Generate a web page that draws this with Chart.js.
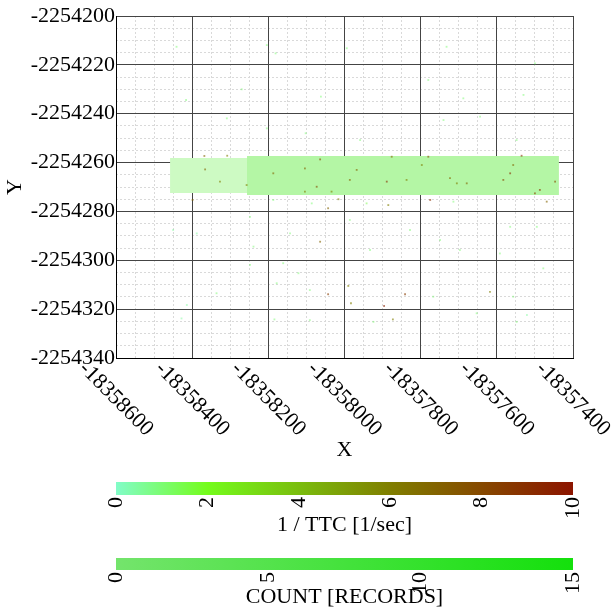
<!DOCTYPE html>
<html>
<head>
<meta charset="utf-8">
<script src="https://cdn.jsdelivr.net/npm/chart.js@4.4.1/dist/chart.umd.min.js"></script>
<style>
  html, body { margin: 0; padding: 0; background: #fff; }
  #wrap { position: relative; width: 614px; height: 614px; }
  canvas { position: absolute; left: 0; }
  #main { top: 0; }
  #cbTtc { top: 470px; }
  #cbCount { top: 546px; }
</style>
</head>
<body>
<div id="wrap">
  <canvas id="main" width="614" height="467"></canvas>
  <canvas id="cbTtc" width="614" height="72"></canvas>
  <canvas id="cbCount" width="614" height="68"></canvas>
</div>
<script>
// axis ranges and ticks
const xMin = -18358600, xMax = -18357400, xStep = 200;
const yMin = -2254340, yMax = -2254200, yStep = 20;

// dense band of records (edges)
const bandLeftX = [-18358458, -18358256];
const bandLeftTop = [-2254258.1, -2254258.1];
const bandLeftBottom = [-2254272.5, -2254272.5];
const bandRightX = [-18358256, -18357437];
const bandRightTop = [-2254257.3, -2254257.3];
const bandRightBottom = [-2254273.3, -2254273.3];

// individual records: x, y, 1/TTC
const pointX = [
  -18358441, -18358204, -18358181, -18357994, -18357732, -18357500, -18358270, -18358062, -18357780, -18357688,
  -18357530, -18358416, -18358204, -18358102, -18357644, -18357740, -18357959, -18357548, -18358309,
  -18358368, -18358308, -18358064, -18357876, -18357535, -18357780,
  -18358399, -18358187, -18358086, -18358043, -18358016, -18357942, -18357885, -18357775, -18357714, -18357469,
  -18358248, -18358064, -18358143, -18357986, -18357828, -18357749, -18357565, -18357495, -18358388, -18358450,
  -18358239, -18357933, -18357697, -18357592, -18358248, -18358161, -18358121, -18357990, -18358043, -18357983,
  -18357896, -18357841, -18357618, -18357478, -18357767, -18358414, -18358336, -18358178, -18358091, -18357557,
  -18358184, -18357873, -18357924, -18357521, -18357653, -18358091, -18358428, -18357548,
  -18358366, -18358327, -18358257, -18358187, -18358104, -18358073, -18358034, -18357968, -18357889, -18357837,
  -18357723, -18357705, -18357679, -18357583, -18357565, -18357500, -18357487, -18358104, -18357986, -18357797,
  -18357557, -18357447
];
const pointY = [
  -2254212.6, -2254211.9, -2254215.3, -2254213.2, -2254212.6, -2254219.4, -2254230.0, -2254233.0, -2254226.2, -2254233.7,
  -2254232.3, -2254234.4, -2254246.0, -2254248.0, -2254241.2, -2254242.6, -2254250.8, -2254250.8, -2254241.9,
  -2254257.3, -2254257.2, -2254258.7, -2254257.6, -2254257.2, -2254257.6,
  -2254275.3, -2254275.3, -2254276.7, -2254278.7, -2254275.0, -2254276.7, -2254277.4, -2254275.3, -2254276.0, -2254276.0,
  -2254282.2, -2254292.4, -2254289.0, -2254283.5, -2254287.6, -2254291.7, -2254286.3, -2254286.3, -2254289.0, -2254287.6,
  -2254294.4, -2254295.8, -2254295.8, -2254297.2, -2254301.9, -2254301.2, -2254305.3, -2254310.5, -2254313.9, -2254317.6,
  -2254318.7, -2254313.9, -2254312.9, -2254303.3, -2254314.9, -2254318.3, -2254313.5, -2254309.4, -2254312.2, -2254314.9,
  -2254324.2, -2254324.2, -2254325.2, -2254322.4, -2254321.7, -2254324.5, -2254323.8, -2254325.2,
  -2254262.8, -2254267.8, -2254269.2, -2254264.4, -2254262.4, -2254269.9, -2254271.9, -2254263.0, -2254267.8, -2254267.1,
  -2254266.4, -2254268.5, -2254268.5, -2254267.1, -2254264.4, -2254272.6, -2254271.2, -2254271.9, -2254267.1, -2254261.0,
  -2254261.0, -2254267.8
];
const pointInvTtc = [
  1, 1, 1, 1, 1, 1, 1, 1, 1, 1,
  1, 1, 1, 1, 1, 1, 1, 1, 1,
  7, 6, 8, 7, 9, 8,
  7, 1, 1, 7, 6, 1.5, 6, 9, 1, 7,
  1, 7, 1, 1, 1, 1, 1, 1, 0.5, 0.5,
  1, 1, 1, 1, 1, 1, 1, 6, 8.5, 6,
  9.5, 8.5, 6, 1, 1, 0.5, 1, 1, 1, 1,
  1, 6, 1, 0.5, 1, 1, 0.5, 1,
  7, 6, 6, 7, 7, 8, 6, 7, 9, 6,
  7, 6, 7, 8, 9, 8, 9, 6, 7, 6,
  7, 8
];

// colour bars
const ttcMin = 0, ttcMax = 10, ttcStep = 2;
const ttcStops = [[0, '#82fcc8'], [0.2, '#74fc1c'], [0.6, '#807e00'], [1, '#8c1400']];
const countMin = 0, countMax = 15, countStep = 5;
const countStops = [[0, '#74e46c'], [1, '#14e00c']];

Chart.defaults.font.family = '"Liberation Serif", "Times New Roman", serif';
Chart.defaults.font.size = 22;
Chart.defaults.color = '#000';
Chart.defaults.animation = false;

function hex(c) {
  return [parseInt(c.slice(1, 3), 16), parseInt(c.slice(3, 5), 16), parseInt(c.slice(5, 7), 16)];
}
function ttcColor(v, a) {
  const t = (v - ttcMin) / (ttcMax - ttcMin);
  for (let i = 1; i < ttcStops.length; i++) {
    if (t <= ttcStops[i][0]) {
      const [t0, c0] = ttcStops[i - 1], [t1, c1] = ttcStops[i];
      const f = (t - t0) / (t1 - t0), p = hex(c0), q = hex(c1);
      const m = p.map((x, k) => Math.round(x + (q[k] - x) * f));
      return `rgba(${m[0]},${m[1]},${m[2]},${a})`;
    }
  }
  return ttcStops[ttcStops.length - 1][1];
}

const pts = pointX.map((x, i) => ({ x, y: pointY[i] }));
const edge = (xs, ys) => xs.map((x, i) => ({ x, y: ys[i] }));

const xTickLabels = {
  id: 'xTickLabels',
  afterDraw(chart) {
    const s = chart.scales.x, ctx = chart.ctx;
    ctx.save();
    ctx.font = '22px "Liberation Serif", "Times New Roman", serif';
    ctx.fillStyle = '#000';
    ctx.textAlign = 'center';
    ctx.textBaseline = 'middle';
    s.ticks.forEach(t => {
      ctx.save();
      ctx.translate(s.getPixelForValue(t.value), s.top + 41);
      ctx.rotate(Math.PI / 4);
      ctx.fillText(String(t.value), 0, 0);
      ctx.restore();
    });
    ctx.restore();
  }
};

new Chart(document.getElementById('main'), {
  type: 'scatter',
  data: {
    datasets: [
      {
        data: pts,
        pointStyle: 'rect',
        pointRadius: 1.3,
        borderWidth: 0,
        backgroundColor: pointInvTtc.map(v => ttcColor(v, v > 3 ? 0.6 : 0.5))
      },
      { type: 'line', data: edge(bandLeftX, bandLeftTop), fill: '+1', backgroundColor: 'rgba(205,250,195,1)', borderWidth: 0, pointRadius: 0 },
      { type: 'line', data: edge(bandLeftX, bandLeftBottom), fill: false, borderWidth: 0, pointRadius: 0 },
      { type: 'line', data: edge(bandRightX, bandRightTop), fill: '+1', backgroundColor: 'rgba(180,246,165,1)', borderWidth: 0, pointRadius: 0 },
      { type: 'line', data: edge(bandRightX, bandRightBottom), fill: false, borderWidth: 0, pointRadius: 0 }
    ]
  },
  options: {
    responsive: false,
    layout: { padding: { top: 16, right: 41, left: 0, bottom: 0 } },
    plugins: { legend: { display: false }, tooltip: { enabled: false } },
    scales: {
      xMinor: {
        type: 'linear', position: 'bottom', min: xMin, max: xMax,
        ticks: { display: false, stepSize: 50 },
        grid: { color: '#d9d9d9', drawTicks: false, z: -2 },
        border: { display: false, dash: [2, 2] },
        afterFit: s => { s.height = 0; }
      },
      yMinor: {
        type: 'linear', position: 'left', min: yMin, max: yMax,
        ticks: { display: false, stepSize: 5 },
        grid: { color: '#d9d9d9', drawTicks: false, z: -2 },
        border: { display: false, dash: [2, 2] },
        afterFit: s => { s.width = 0; }
      },
      x: {
        type: 'linear', position: 'bottom', min: xMin, max: xMax,
        ticks: { display: false, stepSize: xStep },
        grid: { color: '#444', drawTicks: false },
        border: { color: '#000' },
        title: { display: true, text: 'X', padding: { top: 4, bottom: 4 } },
        afterFit: s => { s.height = 109; }
      },
      y: {
        type: 'linear', position: 'left', min: yMin, max: yMax,
        ticks: { stepSize: yStep, padding: 1, callback: v => String(v) },
        grid: { color: '#444', drawTicks: false },
        border: { color: '#000' },
        title: { display: true, text: 'Y', padding: { top: 2, bottom: 0 } },
        afterFit: s => { s.width = 116; }
      }
    }
  },
  plugins: [xTickLabels]
});

function colorBar(id, min, max, step, stops, label, axisHeight, padTop) {
  new Chart(document.getElementById(id), {
    type: 'bar',
    data: {
      labels: [''],
      datasets: [{
        data: [[min, max]],
        borderWidth: 0,
        barPercentage: 1,
        categoryPercentage: 1,
        backgroundColor: c => {
          const area = c.chart.chartArea;
          if (!area) return stops[0][1];
          const g = c.chart.ctx.createLinearGradient(area.left, 0, area.right, 0);
          stops.forEach(([t, col]) => g.addColorStop(t, col));
          return g;
        }
      }]
    },
    options: {
      responsive: false,
      indexAxis: 'y',
      layout: { padding: { top: padTop, left: 116, right: 41, bottom: 0 } },
      plugins: { legend: { display: false }, tooltip: { enabled: false } },
      scales: {
        x: {
          min, max,
          ticks: { stepSize: step, minRotation: 90, maxRotation: 90, autoSkip: false, padding: 2 },
          grid: { display: false, drawTicks: false },
          border: { display: false },
          title: { display: true, text: label, padding: { top: 4, bottom: 4 } },
          afterFit: s => { s.height = axisHeight; }
        },
        y: { display: false }
      }
    }
  });
}

colorBar('cbTtc', ttcMin, ttcMax, ttcStep, ttcStops, '1 / TTC [1/sec]', 47, 12);
colorBar('cbCount', countMin, countMax, countStep, countStops, 'COUNT [RECORDS]', 44, 12);
</script>
</body>
</html>
